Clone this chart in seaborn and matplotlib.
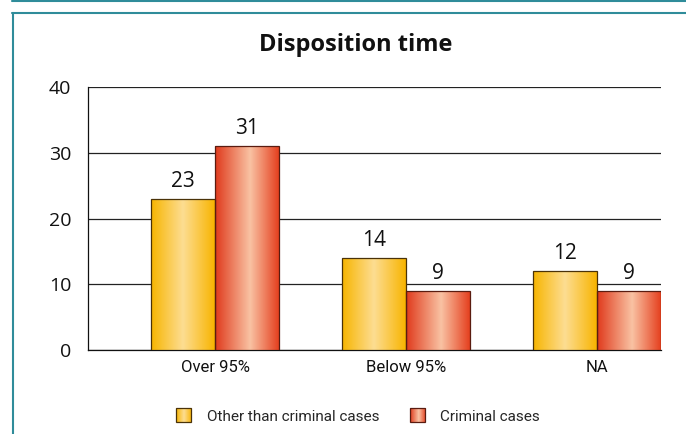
import numpy as np
import pandas as pd
import matplotlib
matplotlib.use("Agg")
import matplotlib.pyplot as plt
import seaborn as sns
from matplotlib.colors import LinearSegmentedColormap
from matplotlib.lines import Line2D
from matplotlib.patches import Rectangle
from matplotlib.image import BboxImage
from matplotlib.transforms import Bbox, TransformedBbox
from matplotlib.legend_handler import HandlerBase

# data
categories = ["Over 95%", "Below 95%", "NA"]
series = ["Other than criminal cases", "Criminal cases"]
other_cases = [23, 14, 12]
criminal_cases = [31, 9, 9]
y_ticks = [0, 10, 20, 30, 40]

df = pd.DataFrame({
    "category": categories * 2,
    "series": [series[0]] * 3 + [series[1]] * 3,
    "value": other_cases + criminal_cases,
})

sns.set_style("white")
plt.rcParams["font.family"] = ["Open Sans", "DejaVu Sans"]
narrow = ["Roboto", "DejaVu Sans"]

# horizontal gradients: dark edges, light centre
cmaps = {
    series[0]: LinearSegmentedColormap.from_list(
        "org", [(0, "#F7B500"), (0.5, "#FDDD92"), (1, "#F8B400")]),
    series[1]: LinearSegmentedColormap.from_list(
        "red", [(0, "#E03A1C"), (0.55, "#F9C2A3"), (1, "#E5401F")]),
}
edge_cols = {series[0]: "#4a3208", series[1]: "#5a1c10"}
grad = np.linspace(0, 1, 256).reshape(1, -1)

fig = plt.figure(figsize=(6.86, 4.34), dpi=100)
ax = fig.add_axes([88 / 686, 84 / 434, 573 / 686, 263 / 434])

sns.barplot(data=df, x="category", y="value", hue="series", hue_order=series,
            order=categories, width=0.67, ax=ax, legend=False, saturation=1,
            edgecolor="none", linewidth=0, zorder=3)

for cont, name in zip(ax.containers, series):
    for p in cont.patches:
        x0, y0 = p.get_x(), p.get_y()
        w, h = p.get_width(), p.get_height()
        p.set_facecolor("none")
        im = ax.imshow(grad, cmap=cmaps[name], aspect="auto",
                       extent=[x0, x0 + w, y0, y0 + h], zorder=3)
        im.set_clip_path(p)
        ax.add_patch(Rectangle((x0, y0), w, h, fill=False,
                               edgecolor=edge_cols[name], lw=0.9, zorder=4))
    ax.bar_label(cont, padding=5, fontsize=15, color="#111111")

ax.set_xlim(-0.665, 2.335)
ax.set_ylim(0, 40)
ax.set_yticks(y_ticks)

ax.yaxis.grid(True, color="#222222", lw=0.9)
ax.set_axisbelow(True)
for s in ["top", "right"]:
    ax.spines[s].set_visible(False)
for s in ["left", "bottom"]:
    ax.spines[s].set_color("#111111")
    ax.spines[s].set_linewidth(0.9)
ax.tick_params(axis="both", length=0, colors="#111111")
ax.tick_params(axis="y", pad=12, labelsize=14)
ax.tick_params(axis="x", pad=7, labelsize=12)
for lab in ax.get_xticklabels():
    lab.set_family(narrow)
ax.set_xlabel("")
ax.set_ylabel("")

fig.text(356 / 686, 1 - 45 / 434, "Disposition time", ha="center",
         va="center", fontsize=17, fontweight="bold", color="#111111")


class GradHandler(HandlerBase):
    def __init__(self, cmap, edge):
        super().__init__()
        self.cmap = cmap
        self.edge = edge

    def create_artists(self, legend, orig_handle, xdescent, ydescent,
                       width, height, fontsize, trans):
        bb = TransformedBbox(Bbox.from_bounds(-xdescent, -ydescent, width, height), trans)
        img = BboxImage(bb, cmap=self.cmap)
        img.set_data(grad)
        rect = Rectangle((-xdescent, -ydescent), width, height, fill=False,
                         edgecolor=self.edge, lw=0.9, transform=trans)
        return [img, rect]


handles = [Rectangle((0, 0), 1, 1) for _ in series]
fig.legend(handles, series, loc="center", bbox_to_anchor=(358 / 686, 1 - 416 / 434),
           ncol=2, frameon=False, handlelength=1.0, handleheight=1.0,
           columnspacing=2.0, handletextpad=1.0,
           prop={"family": narrow, "size": 11},
           handler_map={handles[0]: GradHandler(cmaps[series[0]], edge_cols[series[0]]),
                        handles[1]: GradHandler(cmaps[series[1]], edge_cols[series[1]])})

# teal frame lines
teal = "#2F8C9A"
fig.add_artist(Line2D([12 / 686, 1], [1 - 1 / 434, 1 - 1 / 434], color=teal, lw=1.5,
                      transform=fig.transFigure))
fig.add_artist(Line2D([12 / 686, 1], [1 - 12.5 / 434, 1 - 12.5 / 434], color=teal, lw=1.5,
                      transform=fig.transFigure))
fig.add_artist(Line2D([12.5 / 686, 12.5 / 686], [0, 1 - 12.5 / 434], color=teal, lw=1.5,
                      transform=fig.transFigure))

fig.savefig("out.png", dpi=100)
